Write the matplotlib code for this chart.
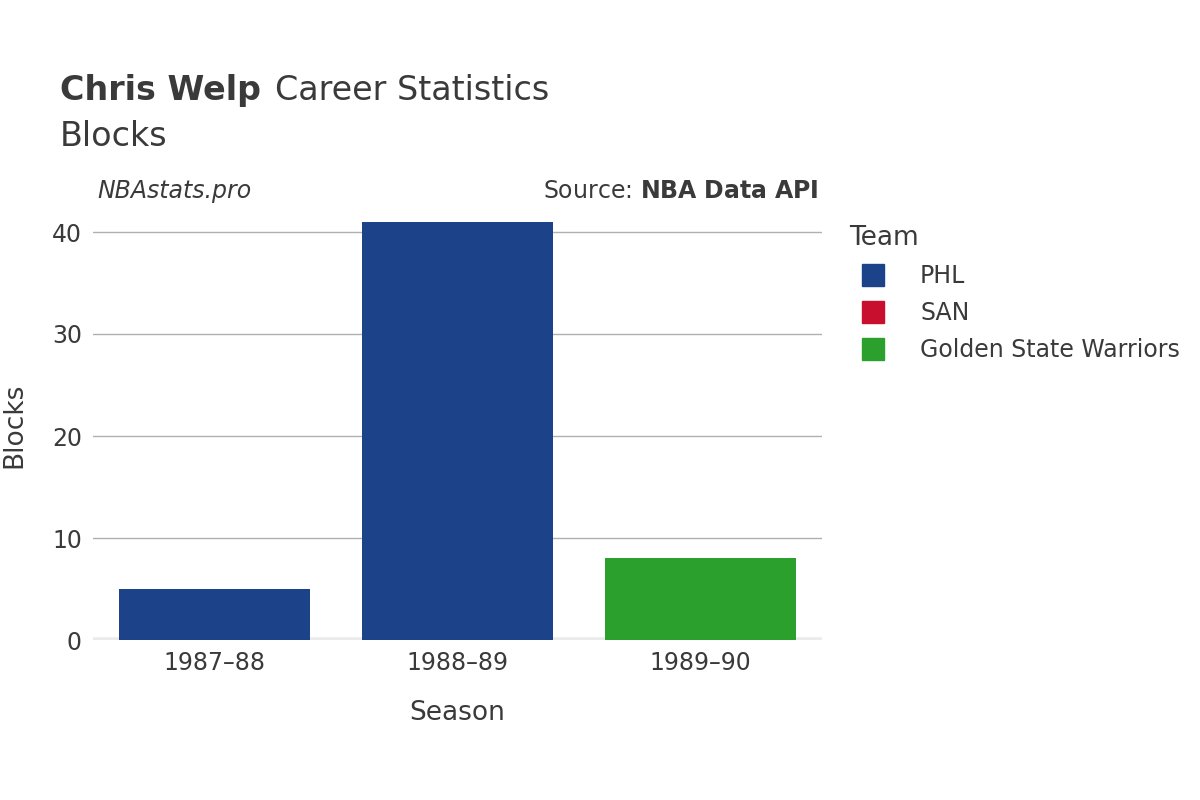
import matplotlib
matplotlib.use('Agg')
import matplotlib.pyplot as plt
from matplotlib.lines import Line2D

seasons = ['1987–88', '1988–89', '1989–90']
blocks = [5, 41, 8]
bar_teams = ['PHL', 'PHL', 'Golden State Warriors']
legend_teams = ['PHL', 'SAN', 'Golden State Warriors']
team_colors = {'PHL': '#1c4289', 'SAN': '#c8102e', 'Golden State Warriors': '#2ca02c'}

plt.rcParams['font.family'] = 'DejaVu Sans'
txt = '#3a3a3a'

fig = plt.figure(figsize=(12, 8), dpi=100)
ax = fig.add_axes([0.0775, 0.2, 0.6075, 0.5355])

x = range(len(seasons))
ax.bar(x, blocks, width=0.79, color=[team_colors[t] for t in bar_teams], zorder=3)
ax.set_xlim(-0.5, 2.5)
ax.set_ylim(0, 42)
ax.set_yticks([0, 10, 20, 30, 40])
ax.yaxis.grid(True, color='#b0b0b0', linewidth=1, zorder=0)
ax.axhline(0, color='#ebebeb', linewidth=4, zorder=2)
for s in ax.spines.values():
    s.set_visible(False)
ax.tick_params(length=0, labelsize=17, colors=txt, pad=8)
ax.set_xticks(list(x))
ax.set_xticklabels(seasons)
ax.set_xlabel('Season', fontsize=19, color=txt, labelpad=18)
ax.set_ylabel('Blocks', fontsize=19, color=txt, labelpad=18)

fig.text(0.05, 0.875, 'Chris Welp', fontsize=24, fontweight='bold', color=txt)
fig.text(0.229, 0.875, 'Career Statistics', fontsize=24, color=txt)
fig.text(0.05, 0.818, 'Blocks', fontsize=24, color=txt)
fig.text(0.081, 0.752, 'NBAstats.pro', fontsize=17, style='italic', color=txt)
fig.text(0.682, 0.752, 'Source: $\\bf{NBA\\ Data\\ API}$', fontsize=17, color=txt, ha='right')

handles = [Line2D([], [], marker='s', linestyle='', markersize=16,
                  markerfacecolor=team_colors[t], markeredgecolor=team_colors[t]) for t in legend_teams]
leg = fig.legend(handles, legend_teams, loc='upper left', bbox_to_anchor=(0.69, 0.745),
                 title='Team', frameon=False, fontsize=17, title_fontsize=19,
                 labelspacing=0.55, handletextpad=1.0, labelcolor=txt)
leg.get_title().set_color(txt)
leg._legend_box.align = 'left'

fig.savefig('out.png', dpi=100)
